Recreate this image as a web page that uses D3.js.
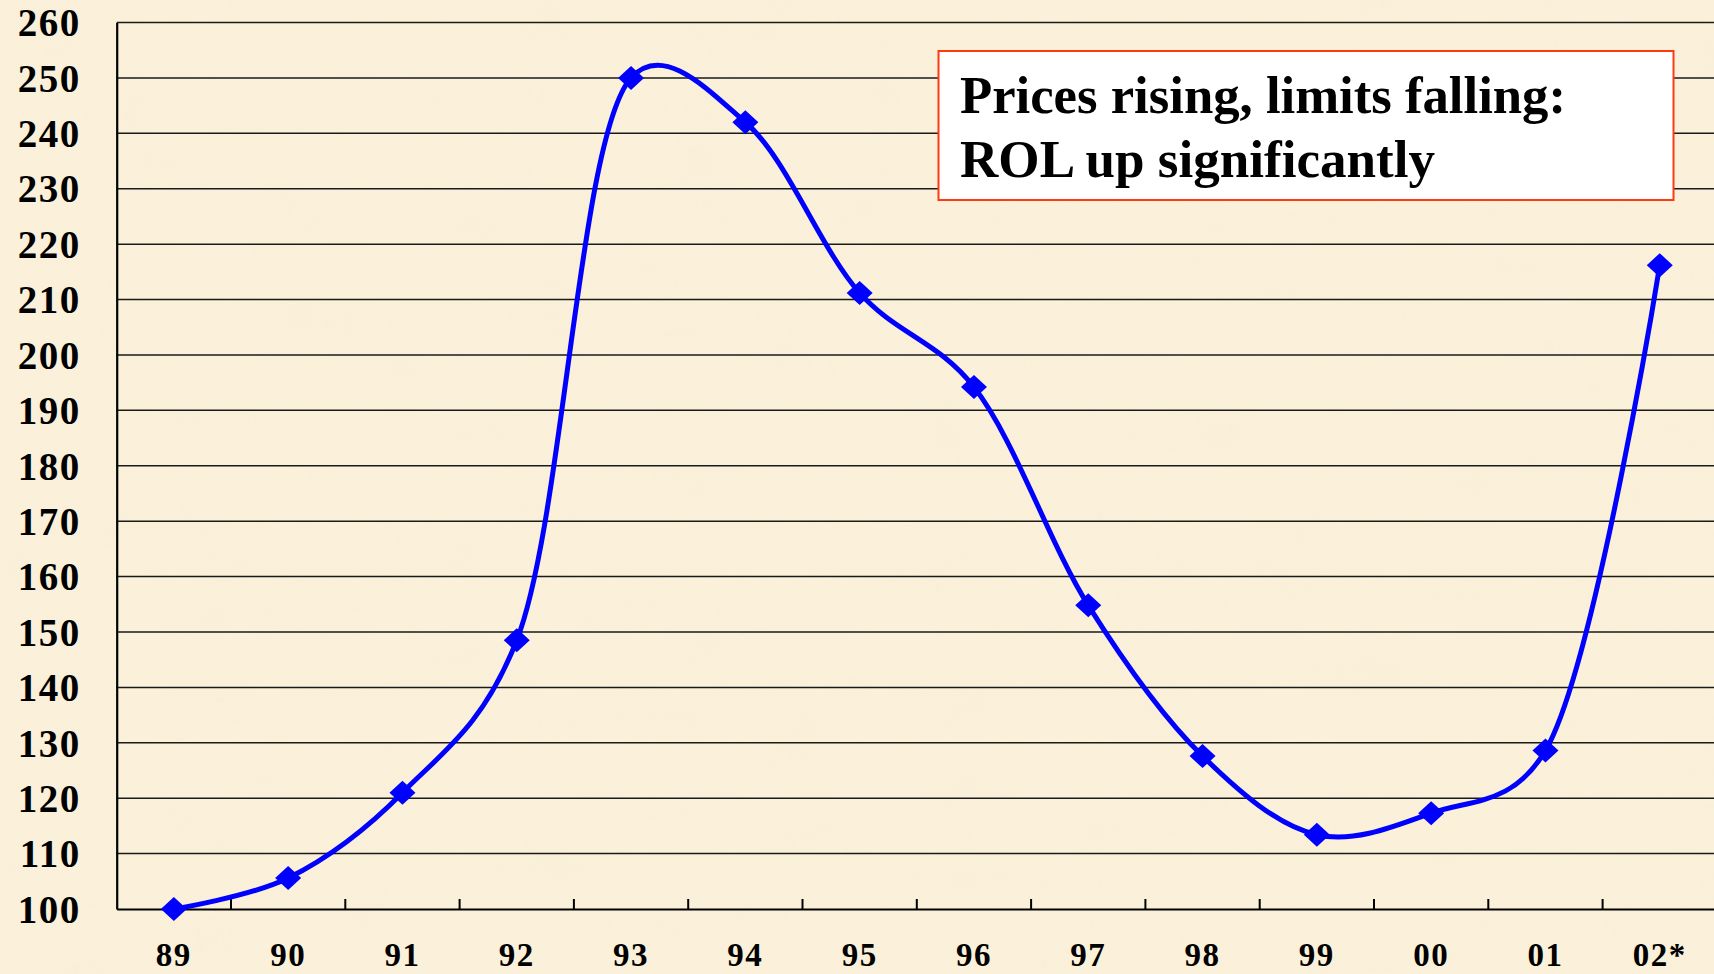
<!DOCTYPE html>
<html>
<head>
<meta charset="utf-8">
<script src="https://cdn.jsdelivr.net/npm/d3@7"></script>
<style>
  html, body { margin: 0; padding: 0; background: #faefd6; overflow: hidden; }
  svg { display: block; }
  .lbl { font-family: "Liberation Serif", "Times New Roman", serif; font-weight: bold; fill: #000; }
</style>
</head>
<body>
<svg id="chart" width="1714" height="974"></svg>
<script>
// years along the bottom
const years = ["89", "90", "91", "92", "93", "94", "95", "96", "97", "98", "99", "00", "01", "02*"];
// index values
const rol = [100, 105.6, 121, 148.5, 250, 242, 211.2, 194.2, 154.8, 127.6, 113.4, 117.3, 128.6, 216.2];
const yTicks = [100, 110, 120, 130, 140, 150, 160, 170, 180, 190, 200, 210, 220, 230, 240, 250, 260];
const noteLines = ["Prices rising, limits falling:", "ROL up significantly"];

const svg = d3.select("#chart"),
      width = +svg.attr("width"),
      height = +svg.attr("height");

const left = 116.7, bandW = 114.3;
const x = d3.scaleBand().domain(years).range([left, left + bandW * years.length]);
const y = d3.scaleLinear().domain([100, 260]).range([909, 22.5]);

// paper-like background
const defs = svg.append("defs");
const f = defs.append("filter").attr("id", "paper").attr("x", 0).attr("y", 0).attr("width", "100%").attr("height", "100%");
f.append("feTurbulence").attr("type", "fractalNoise").attr("baseFrequency", "0.012 0.02").attr("numOctaves", 3).attr("seed", 4);
f.append("feColorMatrix").attr("values", "0 0 0 0 0.93  0 0 0 0 0.85  0 0 0 0 0.68  0 0 0 -1.1 0.75");
svg.append("rect").attr("width", width).attr("height", height).attr("fill", "#fbf1da");
svg.append("rect").attr("width", width).attr("height", height).attr("filter", "url(#paper)").attr("opacity", 0.55);

// horizontal grid lines
svg.append("g")
  .selectAll("line")
  .data(yTicks.slice(1))
  .enter().append("line")
  .attr("x1", left).attr("x2", width)
  .attr("y1", d => y(d)).attr("y2", d => y(d))
  .attr("stroke", "#1a1a1a").attr("stroke-width", 1.5);

// y axis
const yAxis = svg.append("g")
  .attr("transform", `translate(${left},0)`)
  .call(d3.axisLeft(y).tickValues(yTicks).tickSize(0).tickPadding(36));
yAxis.select(".domain").attr("stroke", "#000").attr("stroke-width", 2.2);
yAxis.selectAll("text").attr("class", "lbl").style("font-size", "39px").style("letter-spacing", "1.5px")
  .attr("dy", "0.34em");

// x axis
const xAxis = svg.append("g")
  .attr("transform", `translate(0,${y(100)})`)
  .call(d3.axisBottom(x).tickSize(0).tickPadding(0));
xAxis.select(".domain").attr("stroke", "#000").attr("stroke-width", 2.2);
xAxis.selectAll("text").attr("class", "lbl").style("font-size", "33px").style("letter-spacing", "1.5px")
  .attr("y", 57).attr("dy", 0);

// category separator ticks pointing up
svg.append("g")
  .selectAll("line")
  .data(years.slice(1))
  .enter().append("line")
  .attr("x1", d => x(d)).attr("x2", d => x(d))
  .attr("y1", y(100)).attr("y2", y(100) - 10)
  .attr("stroke", "#000").attr("stroke-width", 2);

// smoothed series line
const line = d3.line()
  .x((d, i) => x(years[i]) + x.bandwidth() / 2)
  .y(d => y(d))
  .curve(d3.curveCatmullRom.alpha(0.3));

svg.append("path")
  .datum(rol)
  .attr("d", line)
  .attr("fill", "none")
  .attr("stroke", "#0000ff")
  .attr("stroke-width", 5)
  .attr("stroke-linejoin", "round");

// diamond markers
svg.append("g")
  .selectAll("path")
  .data(rol)
  .enter().append("path")
  .attr("transform", (d, i) => `translate(${x(years[i]) + x.bandwidth() / 2},${y(d)})`)
  .attr("d", "M0,-12L13,0L0,12L-13,0Z")
  .attr("fill", "#0000ff");

// annotation box
const note = svg.append("g");
note.append("rect")
  .attr("x", 938.5).attr("y", 51).attr("width", 735).attr("height", 149)
  .attr("fill", "#fff").attr("stroke", "#ff3a10").attr("stroke-width", 2);
note.selectAll("text")
  .data(noteLines)
  .enter().append("text")
  .attr("class", "lbl")
  .attr("x", 960)
  .attr("y", (d, i) => 112.5 + i * 64)
  .attr("textLength", (d, i) => i === 0 ? 606 : 475)
  .attr("lengthAdjust", "spacingAndGlyphs")
  .style("font-size", "52px")
  .text(d => d);
</script>
</body>
</html>
